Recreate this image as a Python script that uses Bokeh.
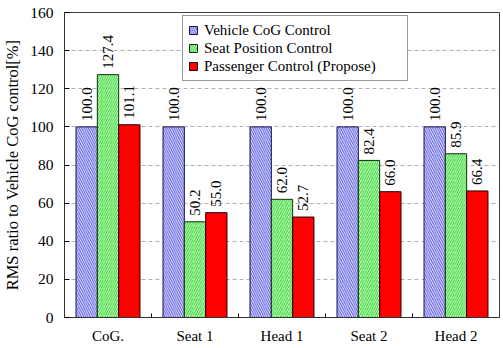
import numpy as np
from bokeh.plotting import figure
from bokeh.models import ColumnDataSource, FixedTicker, Range1d, Legend, LegendItem
from bokeh.core.properties import value
from bokeh.embed import file_html
from bokeh.resources import INLINE

categories = ["CoG.", "Seat 1", "Head 1", "Seat 2", "Head 2"]
series_names = ["Vehicle CoG Control", "Seat Position Control", "Passenger Control (Propose)"]
vehicle_cog = [100.0, 100.0, 100.0, 100.0, 100.0]
seat_position = [127.4, 50.2, 62.0, 82.4, 85.9]
passenger = [101.1, 55.0, 52.7, 66.0, 66.4]
y_ticks = [0, 20, 40, 60, 80, 100, 120, 140, 160]

FONT = "Liberation Serif"
n = len(categories)
centers = np.arange(n) + 0.5
bw = 0.245
offsets = [-bw, 0.0, bw]

p = figure(width=503, height=348, output_backend="svg", toolbar_location=None,
           x_range=Range1d(0, n), y_range=Range1d(0, 160),
           min_border_left=63, min_border_right=4, min_border_top=12, min_border_bottom=31)
p.background_fill_color = "white"
p.border_fill_color = "white"
p.outline_line_color = "#404040"
p.outline_line_width = 1

styles = [
    dict(fill_color="#f4f4ff", hatch_pattern="\\", hatch_color="#4848e0", hatch_scale=4.5, hatch_weight=1.0, line_color="#10104a"),
    dict(fill_color="#d8ffd0", hatch_pattern="/", hatch_color="#22d022", hatch_scale=4.5, hatch_weight=1.0, line_color="#103010"),
    dict(fill_color="#ff0000", line_color="#200000"),
]
data = [vehicle_cog, seat_position, passenger]

items = []
for vals, off, st, name in zip(data, offsets, styles, series_names):
    src = ColumnDataSource(dict(x=centers + off, top=vals,
                                lab=["%.1f" % v for v in vals]))
    r = p.vbar(x="x", top="top", width=bw, bottom=0, source=src, line_width=1, **st)
    items.append(LegendItem(label=name, renderers=[r]))
    p.text(x="x", y="top", text="lab", source=src, angle=np.pi / 2,
           text_align="left", text_baseline="middle", y_offset=-6,
           text_font=value(FONT), text_font_size="15px", text_color="black")

# axes
p.xaxis.ticker = FixedTicker(ticks=list(centers), minor_ticks=list(np.arange(1, n)))
p.xaxis.major_label_overrides = {float(c): cat for c, cat in zip(centers, categories)}
p.xaxis.major_tick_in = 0
p.xaxis.major_tick_out = 0
p.xaxis.minor_tick_in = 4
p.xaxis.minor_tick_out = 0
p.xaxis.major_label_standoff = 10
p.xaxis.major_label_text_font = FONT
p.xaxis.major_label_text_font_size = "15px"
p.xaxis.major_label_text_color = "black"
p.xaxis.axis_line_color = "#303030"

p.yaxis.ticker = FixedTicker(ticks=y_ticks)
p.yaxis.major_tick_in = 5
p.yaxis.major_tick_out = 0
p.yaxis.minor_tick_line_color = None
p.yaxis.major_label_standoff = 11
p.yaxis.major_label_text_font = FONT
p.yaxis.major_label_text_font_size = "15.5px"
p.yaxis.major_label_text_color = "black"
p.yaxis.axis_line_color = "#303030"
p.yaxis.axis_label = "RMS ratio to Vehicle CoG control[%]"
p.yaxis.axis_label_text_font = FONT
p.yaxis.axis_label_text_font_size = "16.5px"
p.yaxis.axis_label_text_font_style = "normal"
p.yaxis.axis_label_text_color = "black"
p.yaxis.axis_label_standoff = 5

p.xgrid.grid_line_color = None
p.ygrid.grid_line_color = "#b0b0b0"
p.ygrid.grid_line_dash = "4 3"
p.ygrid.grid_line_width = 1

legend = Legend(items=items, location=(118, 236), padding=5, spacing=0,
                label_height=18, glyph_width=10, glyph_height=10, label_standoff=6,
                label_width=198, label_text_font=FONT, label_text_font_size="15px",
                label_text_color="black", border_line_color="#303030", border_line_width=1,
                background_fill_color="white", background_fill_alpha=1.0, margin=0)
p.add_layout(legend, "center")

open("out.html", "w").write(file_html(p, INLINE))
